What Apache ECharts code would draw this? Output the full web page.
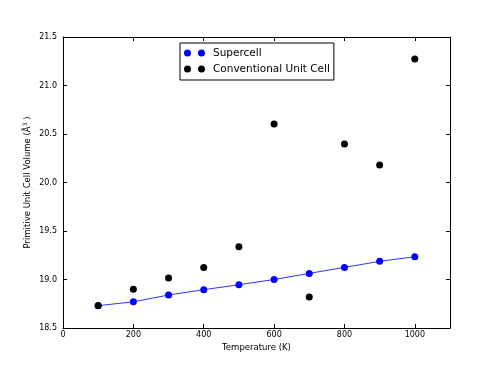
<!DOCTYPE html>
<html>
<head>
<meta charset="utf-8">
<script src="https://cdn.jsdelivr.net/npm/echarts@6/dist/echarts.min.js"></script>
<style>html,body{margin:0;padding:0;background:#fff;}#c{width:500px;height:375px;}</style>
</head>
<body>
<div id="c"></div>
<script>
const temperatures = [100, 200, 300, 400, 500, 600, 700, 800, 900, 1000];
const supercell = [18.73, 18.77, 18.84, 18.895, 18.946, 19.0, 19.063, 19.125, 19.187, 19.235];
const conventional = [18.733, 18.90, 19.015, 19.125, 19.338, 20.603, 18.82, 20.397, 20.18, 21.273];
const xTicks = {min: 0, max: 1100, interval: 200};
const yTicks = {min: 18.5, max: 21.5, interval: 0.5};

const font = 'DejaVu Sans';
const pair = (a, b) => a.map((v, i) => [v, b[i]]);
const frameAxis = {
  axisLine: {show: true, onZero: false, lineStyle: {color: '#000', width: 1}},
  axisTick: {show: true, inside: true, length: 4, lineStyle: {color: '#000'}},
  splitLine: {show: false}
};
const chart = echarts.init(document.getElementById('c'));
chart.setOption({
  backgroundColor: '#fff',
  animation: false,
  grid: {left: 63, right: 50, top: 37, bottom: 47},
  legend: {
    left: 180, top: 43, orient: 'vertical',
    data: ['Supercell', 'Conventional Unit Cell'],
    icon: 'path://M3.5,0A3.5,3.5,0,1,1,3.5,7A3.5,3.5,0,1,1,3.5,0Z M17.5,0A3.5,3.5,0,1,1,17.5,7A3.5,3.5,0,1,1,17.5,0Z',
    itemWidth: 21, itemHeight: 7, itemGap: 4,
    padding: [4, 4, 5, 4],
    borderColor: '#000', borderWidth: 1,
    textStyle: {fontFamily: font, fontSize: 10.5, color: '#000', lineHeight: 12, padding: [0, 0, 0, 3]}
  },
  xAxis: [
    Object.assign({
      type: 'value', min: xTicks.min, max: xTicks.max, interval: xTicks.interval,
      name: 'Temperature (K)', nameLocation: 'middle', nameGap: 15, nameMoveOverlap: false,
      nameTextStyle: {fontFamily: font, fontSize: 8.5, color: '#000'},
      axisLabel: {fontFamily: font, fontSize: 8, color: '#000', margin: 3, showMaxLabel: false,
        formatter: v => String(v)}
    }, frameAxis),
    Object.assign({
      type: 'value', position: 'top', min: xTicks.min, max: xTicks.max, interval: xTicks.interval,
      axisLabel: {show: false}
    }, frameAxis)
  ],
  yAxis: [
    Object.assign({
      type: 'value', min: yTicks.min, max: yTicks.max, interval: yTicks.interval,
      name: 'Primitive Unit Cell Volume (Å{sup|3} )', nameLocation: 'middle', nameGap: 29, nameMoveOverlap: false,
      nameTextStyle: {fontFamily: font, fontSize: 8.5, color: '#000',
        rich: {sup: {fontFamily: font, fontSize: 6, color: '#000', verticalAlign: 'bottom', padding: [0, 0, 6, 0]}}},
      axisLabel: {fontFamily: font, fontSize: 8, color: '#000', margin: 6,
        formatter: v => v.toFixed(1)}
    }, frameAxis),
    Object.assign({
      type: 'value', position: 'right', min: yTicks.min, max: yTicks.max, interval: yTicks.interval,
      axisLabel: {show: false}
    }, frameAxis)
  ],
  series: [
    {
      name: 'fit', type: 'line', data: pair(temperatures, supercell),
      showSymbol: false, symbol: 'none', silent: true,
      lineStyle: {color: '#3333ff', width: 1}, z: 2
    },
    {
      name: 'Supercell', type: 'scatter', data: pair(temperatures, supercell),
      symbolSize: 7, itemStyle: {color: '#0000ff', opacity: 1}, z: 3
    },
    {
      name: 'Conventional Unit Cell', type: 'scatter', data: pair(temperatures, conventional),
      symbolSize: 7, itemStyle: {color: '#000', opacity: 1}, z: 3
    }
  ]
});
</script>
</body>
</html>
